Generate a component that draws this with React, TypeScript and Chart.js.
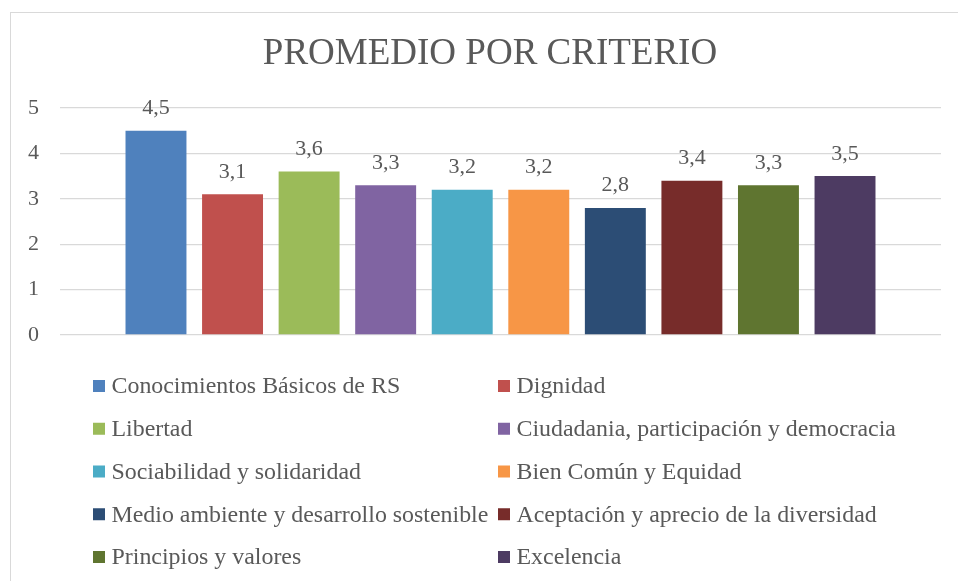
import React, { useEffect, useRef } from "react";
import { Chart, registerables } from "chart.js";

Chart.register(...registerables);

const TITLE = "PROMEDIO POR CRITERIO";
const CRITERIA = [
  "Conocimientos Básicos de RS",
  "Dignidad",
  "Libertad",
  "Ciudadania, participación y democracia",
  "Sociabilidad y solidaridad",
  "Bien Común y Equidad",
  "Medio ambiente y desarrollo sostenible",
  "Aceptación y aprecio de la diversidad",
  "Principios y valores",
  "Excelencia",
];
const VALUES = [4.5, 3.1, 3.6, 3.3, 3.2, 3.2, 2.8, 3.4, 3.3, 3.5];
const COLORS = [
  "#4F81BD",
  "#C0504D",
  "#9BBB59",
  "#8064A2",
  "#4BACC6",
  "#F79646",
  "#2C4D75",
  "#772C2A",
  "#5F7530",
  "#4D3B62",
];
const Y_MIN = 0;
const Y_MAX = 5;
const Y_STEP = 1;

const FONT = '"Liberation Serif", "Times New Roman", serif';
const TEXT = "#595959";

const dataLabelsPlugin = {
  id: "dataLabels",
  afterDatasetsDraw(chart: any) {
    const ctx = chart.ctx;
    ctx.save();
    ctx.font = `22px ${FONT}`;
    ctx.fillStyle = TEXT;
    ctx.textAlign = "center";
    ctx.textBaseline = "alphabetic";
    chart.data.datasets.forEach((ds: any, i: number) => {
      const meta = chart.getDatasetMeta(i);
      const el = meta.data[0];
      if (!el) return;
      const v = ds.data[0] as number;
      ctx.fillText(v.toFixed(1).replace(".", ","), el.x, el.y - 16.5);
    });
    ctx.restore();
  },
};

const gridLegendPlugin = {
  id: "gridLegend",
  afterDraw(chart: any) {
    const ctx = chart.ctx;
    ctx.save();
    ctx.font = `23.9px ${FONT}`;
    ctx.textBaseline = "middle";
    ctx.textAlign = "left";
    const colX = [93, 498];
    const row0 = 386;
    const rowH = 42.75;
    chart.data.datasets.forEach((ds: any, i: number) => {
      const col = i % 2;
      const row = Math.floor(i / 2);
      const x = colX[col];
      const y = row0 + row * rowH;
      ctx.fillStyle = ds.backgroundColor;
      ctx.fillRect(x, y - 6, 12, 12);
      ctx.fillStyle = TEXT;
      ctx.fillText(ds.label, x + 18.5, y + 1);
    });
    ctx.restore();
  },
};

export default function App() {
  const ref = useRef<HTMLCanvasElement | null>(null);
  useEffect(() => {
    if (!ref.current) return;
    const chart = new Chart(ref.current, {
      type: "bar",
      data: {
        labels: [""],
        datasets: CRITERIA.map((label, i) => ({
          label,
          data: [VALUES[i]],
          backgroundColor: COLORS[i],
          borderWidth: 0,
          categoryPercentage: 0.869,
          barPercentage: 0.796,
        })),
      },
      options: {
        responsive: false,
        animation: false,
        layout: { padding: { left: 39, right: 17, top: 0, bottom: 246 } },
        plugins: {
          legend: { display: false },
          tooltip: { enabled: false },
          title: {
            display: true,
            text: TITLE,
            color: TEXT,
            font: { family: FONT, size: 37, weight: "normal", lineHeight: 1.2 },
            padding: { top: 32, bottom: 31.6 },
          },
        },
        scales: {
          x: { display: false },
          y: {
            min: Y_MIN,
            max: Y_MAX,
            ticks: {
              stepSize: Y_STEP,
              color: TEXT,
              font: { family: FONT, size: 22 },
              mirror: true,
              crossAlign: "near",
              padding: -32,
            },
            grid: { color: "#d9d9d9", lineWidth: 1.3, drawTicks: false },
            border: { display: false },
            afterFit: (s: any) => {
              s.width = 21;
            },
          },
        },
      },
      plugins: [dataLabelsPlugin, gridLegendPlugin],
    });
    return () => chart.destroy();
  }, []);

  return (
    <div
      style={{
        position: "fixed",
        left: 0,
        top: 0,
        width: 958,
        height: 581,
        overflow: "hidden",
        background: "#fff",
      }}
    >
      <div
        style={{
          position: "absolute",
          left: 10,
          top: 12,
          width: 2000,
          height: 2000,
          borderLeft: "1px solid #d9d9d9",
          borderTop: "1px solid #d9d9d9",
        }}
      />
      <canvas
        ref={ref}
        width={958}
        height={581}
        style={{ position: "absolute", left: 0, top: 0, width: 958, height: 581 }}
      />
    </div>
  );
}
